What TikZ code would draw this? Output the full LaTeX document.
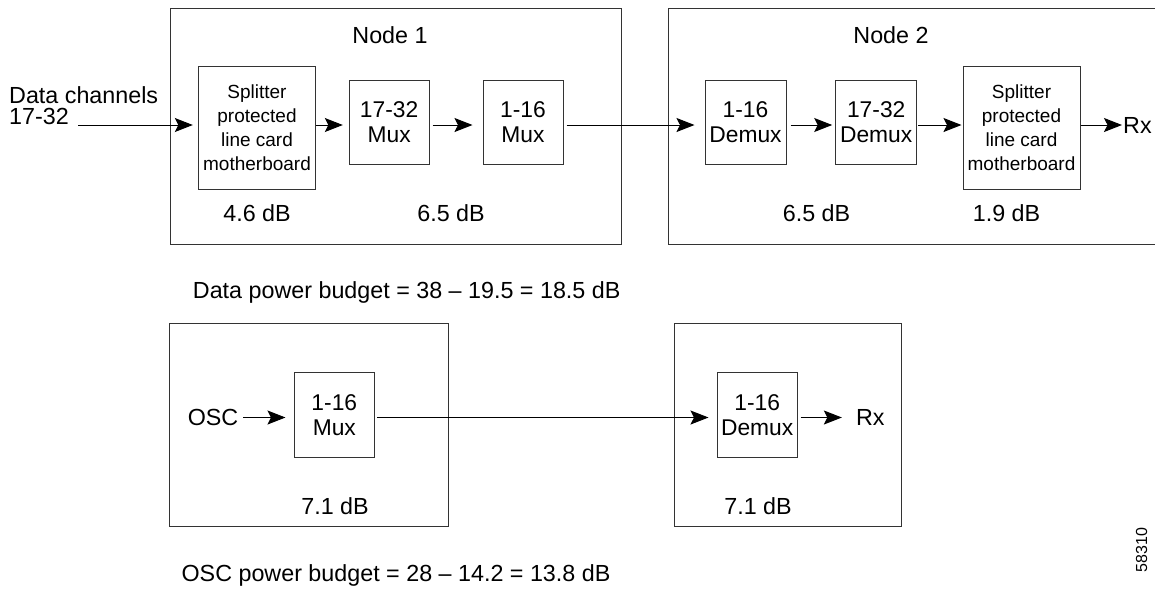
\documentclass[tikz,border=0pt]{standalone}
\usepackage{fontspec}
\setmainfont{Liberation Sans}
\usetikzlibrary{arrows.meta}
\begin{document}
\begin{tikzpicture}[x=1pt,y=-1pt,
  frame/.style={draw=black!80, line width=1pt},
  blk/.style={draw=black!80, line width=1pt, inner sep=0pt, align=center},
  lbl/.style={inner sep=0pt, font=\fontsize{23.3}{25}\selectfont},
  small/.style={font=\fontsize{19}{23.7}\selectfont},
  mid/.style={font=\fontsize{22.8}{25}\selectfont},
  arr/.style={line width=1pt, -{Stealth[length=18pt,width=14pt,inset=3.5pt]}}
]
\useasboundingbox (0,0) rectangle (1155,590);

% frames
\node[frame, inner sep=0pt, minimum width=451.7pt, minimum height=236pt] (n1) at (395.85,126.3) {};
\draw[frame] (1158,8.3) -| (668.3,244.3) -- (1158,244.3);
\node[frame, inner sep=0pt, minimum width=279.3pt, minimum height=202.7pt] (o1) at (308.65,424.65) {};
\node[frame, inner sep=0pt, minimum width=227.7pt, minimum height=202.7pt] (o2) at (787.85,424.65) {};

% titles
\node[lbl] (t1) at (390,35) {Node 1};
\node[lbl] (t2) at (891,35) {Node 2};
\node[lbl, anchor=base west] (dc1) at (9,103) {Data channels};
\node[lbl, anchor=base west] (dc2) at (9,124) {17-32};
\coordinate (inS) at (78,125);

% top row blocks
\node[blk, small, minimum width=116.6pt, minimum height=123.3pt] (s1) at (257,127.7) {Splitter\\protected\\line card\\motherboard};
\node[blk, mid, minimum width=79.7pt, minimum height=84pt] (m1) at (389.15,122) {17-32\\Mux};
\node[blk, mid, minimum width=80pt, minimum height=84pt] (m2) at (523,122) {1-16\\Mux};
\node[blk, mid, minimum width=81pt, minimum height=84pt] (d1) at (745.5,122) {1-16\\Demux};
\node[blk, mid, minimum width=81pt, minimum height=84pt] (d2) at (876.2,122) {17-32\\Demux};
\node[blk, small, minimum width=117pt, minimum height=123.3pt] (s2) at (1021.5,127.7) {Splitter\\protected\\line card\\motherboard};
\node[lbl, anchor=west] (rx1) at (1123,125) {Rx};

% top row losses
\node[lbl] (l1) at (257,213) {4.6 dB};
\node[lbl] (l2) at (451,213) {6.5 dB};
\node[lbl] (l3) at (816.5,213) {6.5 dB};
\node[lbl] (l4) at (1006.5,213) {1.9 dB};

\node[lbl] (b1) at (406.7,292) {Data power budget = 38 -- 19.5 = 18.5 dB};

% top row connectors
\coordinate (lv) at (0,125);
\draw[arr, shorten >=5.4pt] (inS) -- (s1.west |- lv);
\draw[arr, shorten >=6pt] (s1.east |- lv) -- (m1.west |- lv);
\draw[arr, shorten <=3pt, shorten >=10pt] (m1.east |- lv) -- (m2.west |- lv);
\draw[arr, shorten <=3pt, shorten >=10pt] (m2.east |- lv) -- (d1.west |- lv);
\draw[arr, shorten <=4pt, shorten >=3pt] (d1.east |- lv) -- (d2.west |- lv);
\draw[arr, shorten <=1pt, shorten >=1pt] (d2.east |- lv) -- (s2.west |- lv);
\draw[arr, shorten >=1pt] (s2.east |- lv) -- (rx1.west |- lv);

% bottom row
\node[lbl] (osc) at (213,417) {OSC};
\node[blk, mid, minimum width=80pt, minimum height=84.3pt] (m3) at (334.3,414.85) {1-16\\Mux};
\node[blk, mid, minimum width=79.7pt, minimum height=84.3pt] (d3) at (757.15,414.85) {1-16\\Demux};
\node[lbl] (rx2) at (870.3,417) {Rx};
\node[lbl] (l5) at (335,506) {7.1 dB};
\node[lbl] (l6) at (758,506) {7.1 dB};
\node[lbl] (b2) at (396,575) {OSC power budget = 28 -- 14.2 = 13.8 dB};
\node[inner sep=0pt, rotate=90, font=\fontsize{16}{18}\selectfont] (fig) at (1141.5,550) {58310};

\coordinate (lv2) at (0,417.5);
\draw[arr, shorten <=5pt, shorten >=8.3pt] (osc.east |- lv2) -- (m3.west |- lv2);
\draw[arr, shorten <=2.4pt, shorten >=8.3pt] (m3.east |- lv2) -- (d3.west |- lv2);
\draw[arr, shorten <=3pt, shorten >=14pt] (d3.east |- lv2) -- (rx2.west |- lv2);
\end{tikzpicture}
\end{document}
